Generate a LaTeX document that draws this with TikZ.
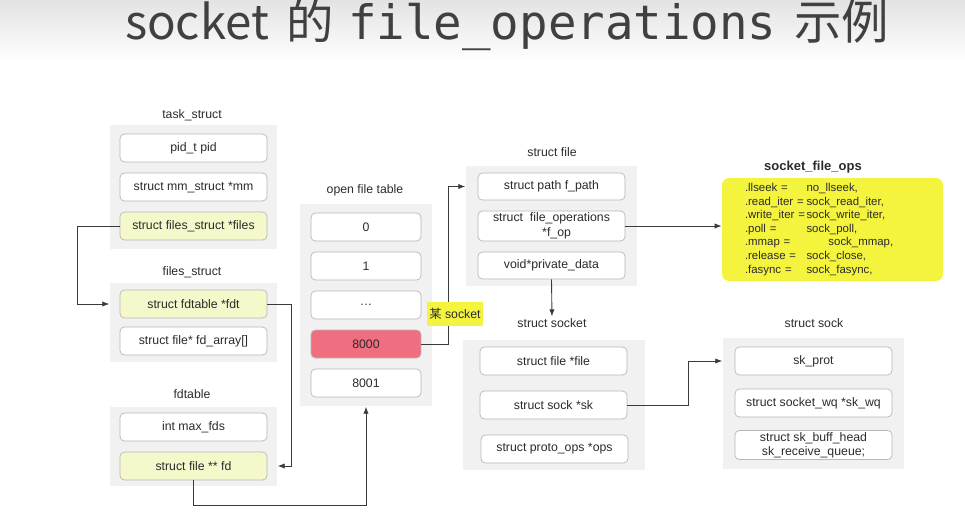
\documentclass[tikz,border=0pt]{standalone}
\usepackage{fontspec}
\setmainfont{Liberation Sans}
\setmonofont{DejaVu Sans Mono}
\newfontfamily\cjk{Noto Sans CJK SC}
\usepackage{tikz}
\usetikzlibrary{arrows.meta,positioning,fit,backgrounds}
\definecolor{ink}{HTML}{2B2B2B}
\definecolor{wire}{HTML}{3A3A3A}
\definecolor{frameGray}{HTML}{F1F1F1}
\definecolor{boxLine}{HTML}{B8B8B8}
\definecolor{fieldYellow}{HTML}{F4F8CA}
\definecolor{hotRed}{HTML}{EF6F80}
\definecolor{opsYellow}{HTML}{F4F43E}
\newcommand\opsrow[3][35pt]{\makebox[#1][l]{#2}#3}

\begin{document}
\begin{tikzpicture}[x=0.02cm,y=-0.02cm,font=\fontsize{7}{8.5}\selectfont,
  >={Latex[length=4pt,width=3pt]},
  field/.style={draw=boxLine,fill=white,rounded corners=2.5pt,text=ink,
    minimum width=2.94cm,minimum height=0.56cm,inner sep=1pt,align=center},
  hot/.style={field,fill=fieldYellow},
  frame/.style={fill=frameGray,inner sep=0pt},
  heading/.style={text=ink,inner sep=1pt},
  link/.style={->,draw=wire,line width=0.5pt}]
\useasboundingbox (0,0) rectangle (965,518);
\shade[top color=gray!22,bottom color=white] (0,0) rectangle (965,62);
% --- title ---
\node[text=ink!90,font=\fontsize{27}{31}\selectfont] (title) at (507,25)
  {{\cjk socket}\hspace{10pt}{\cjk 的}\hspace{8pt}\texttt{file\_operations}\hspace{10pt}{\cjk 示例}};
% --- task_struct / files_struct / fdtable ---
\node[heading] (tasklbl) at (192,115) {task\_struct};
\node[field] (pid) at (193.5,148) {pid\_t pid};
\node[field] (mm) at (193.5,187) {struct mm\_struct *mm};
\node[hot] (files) at (193.5,226) {struct files\_struct *files};
\node[heading] (fslbl) at (192,272) {files\_struct};
\node[hot] (fdt) at (193.5,304) {struct fdtable *fdt};
\node[field] (fdarr) at (193.5,341) {struct file* fd\_array[]};
\node[heading] (fdtlbl) at (192,394) {fdtable};
\node[field] (maxfds) at (193.5,427) {int max\_fds};
\node[hot] (fd) at (193.5,466) {struct file ** fd};
% --- open file table ---
\node[heading] (oftlbl) at (365,190) {open file table};
\foreach \y/\n/\t in {227/f0/0,266/f1/1,383/f8001/8001}
  \node[field,minimum width=2.2cm] (\n) at (366,\y) {\t};
\node[field,minimum width=2.2cm] (fdots) at (366,305) {\ldots};
\node[field,minimum width=2.2cm,fill=hotRed] (f8000) at (366,344) {8000};
% --- struct file ---
\node[heading] (filelbl) at (552,152) {struct file};
\node[field,minimum height=0.54cm] (fpath) at (551.5,186.5) {struct path f\_path};
\node[field,align=left] (fop) at (551.5,226)
  {struct\ \ file\_operations\\\hspace*{28pt}*f\_op};
\node[field,minimum height=0.54cm] (priv) at (551.5,265.5) {void*private\_data};
% --- socket_file_ops ---
\node[heading,font=\fontsize{7.4}{9}\selectfont\bfseries] (opslbl) at (813,167) {socket\_file\_ops};
\node[fill=opsYellow,rounded corners=4pt,minimum height=2.06cm,text width=3.5cm,
  inner xsep=0.46cm,inner ysep=0pt,align=left,text=ink,
  font=\fontsize{6.5}{7.7}\selectfont] (fileops) at (832.5,229.5)
  {\opsrow{.llseek =}{no\_llseek,}\\
   \opsrow{.read\_iter =}{sock\_read\_iter,}\\
   \opsrow{.write\_iter =}{sock\_write\_iter,}\\
   \opsrow{.poll =}{sock\_poll,}\\
   \opsrow[47.5pt]{.mmap =}{sock\_mmap,}\\
   \opsrow{.release =}{sock\_close,}\\
   \opsrow{.fasync =}{sock\_fasync,}};
% --- struct socket ---
\node[heading] (socketlbl) at (552,323) {struct socket};
\node[field] (sfile) at (553.5,361) {struct file *file};
\node[field] (sk) at (553.5,405) {struct sock *sk};
\node[field] (sops) at (554.5,449) {struct proto\_ops *ops};
% --- struct sock ---
\node[heading] (socklbl) at (814,323) {struct sock};
\node[field,minimum width=3.14cm] (skprot) at (813.5,361) {sk\_prot};
\node[field,minimum width=3.14cm] (skwq) at (813.5,403) {struct socket\_wq *sk\_wq};
\node[field,minimum width=3.14cm,font=\fontsize{7}{8}\selectfont] (skbuff) at (813.5,445)
  {struct sk\_buff\_head\\sk\_receive\_queue;};
% --- grey frames ---
\begin{scope}[on background layer]
  \node[frame,fit=(pid)(files),inner xsep=0.2cm,inner ysep=0.17cm] (taskframe) {};
  \node[frame,fit=(fdt)(fdarr),inner xsep=0.2cm,inner ysep=0.14cm] (fsframe) {};
  \node[frame,fit=(maxfds)(fd),inner xsep=0.2cm,inner ysep=0.12cm] (fdframe) {};
  \node[frame,fit=(f0)(f8001),inner xsep=0.22cm,inner ysep=0.18cm] (oftframe) {};
  \node[frame,fit=(fpath)(priv),inner xsep=0.24cm,inner ysep=0.14cm] (fileframe) {};
  \node[frame,fit=(sfile)(sops),inner xsep=0.34cm,inner ysep=0.14cm] (socketframe) {};
  \node[frame,fit=(skprot)(skbuff),inner xsep=0.24cm,inner ysep=0.18cm] (sockframe) {};
\end{scope}
% --- pointers ---
\draw[link] (files.west) -- ++(-42,0) |- (fsframe.west |- fdt.west);
\draw[link] (fdt.east) -- ++(24,0) |- (fdframe.east |- fd.east);
\draw[link] (fd.south) -- ++(0,25) -| (oftframe.south);
\draw[link] (f8000.east) -- ++(27,0) |- (fileframe.west |- fpath.west);
\draw[link] (fop.east) -- (fileops.west |- fop.east);
\draw[link] (priv.south) -- (socketlbl.north);
\draw[link] (sk.east) -- ++(61,0) |- (sockframe.west |- skprot.west);
\node[fill=opsYellow,text=ink,inner xsep=1.5pt,minimum height=0.46cm] (sockettag) at (455,314)
  {{\cjk 某} socket};
\end{tikzpicture}
\end{document}
